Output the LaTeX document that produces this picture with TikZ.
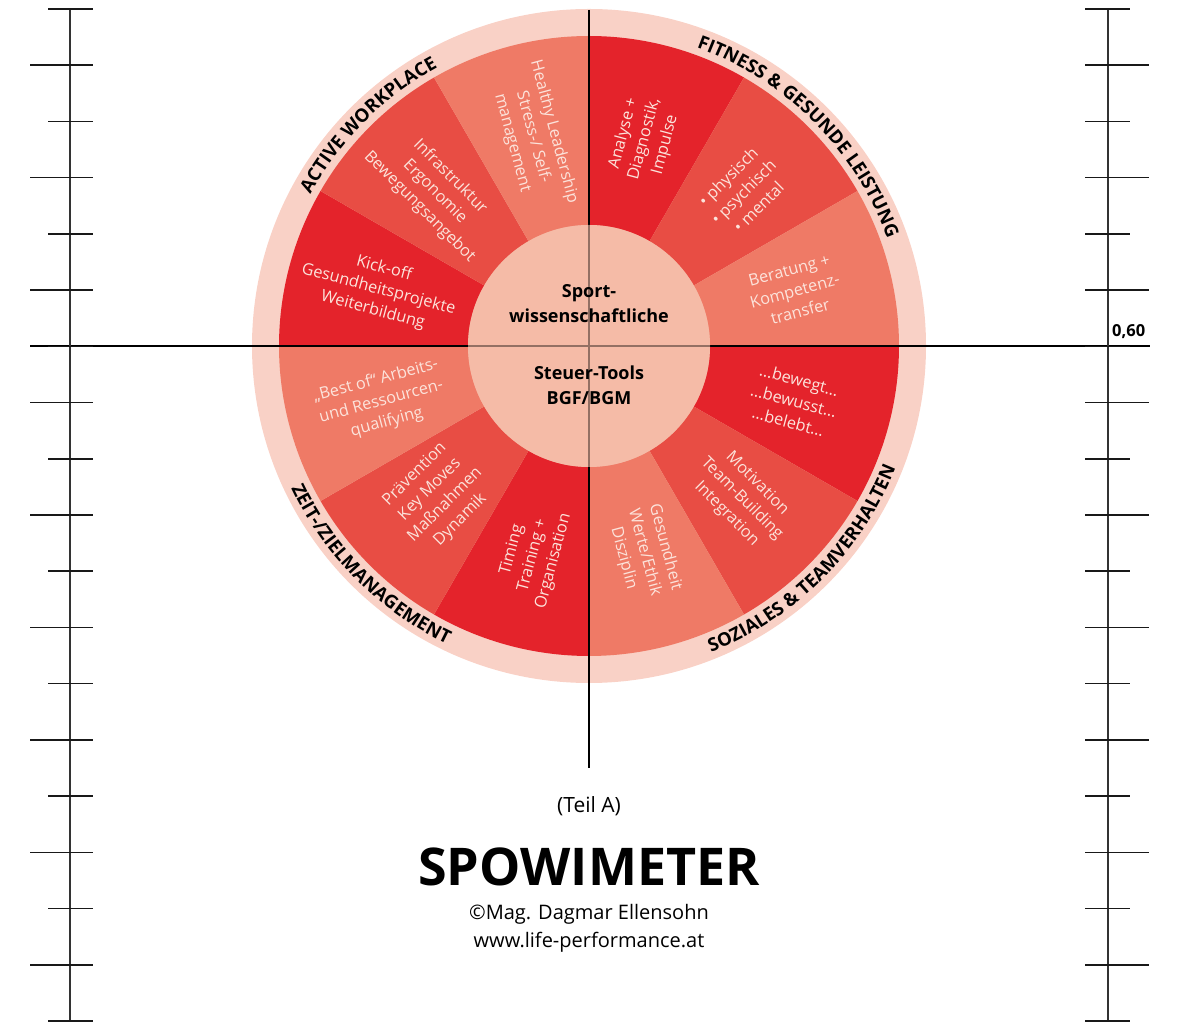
\documentclass[tikz,border=0pt]{standalone}
\usepackage{fontspec}
\setmainfont{Open Sans}
\usetikzlibrary{calc,decorations.text}
\definecolor{wdark}{HTML}{E4232B}
\definecolor{wmed}{HTML}{E84D44}
\definecolor{wlight}{HTML}{EF7A66}
\definecolor{wring}{HTML}{F9D1C6}
\definecolor{wcenter}{HTML}{F5BBA7}
\definecolor{wtext}{HTML}{FCE3DB}
\newcommand\arclabelfont{\bfseries\fontsize{18.5}{18.5}\selectfont}
\begin{document}
\begin{tikzpicture}[x=1pt,y=1pt,
  segtext/.style={text=wtext, align=center, font=\fontsize{16.3}{21.5}\selectfont, inner sep=0pt},
  midtext/.style={font=\bfseries\fontsize{18}{18}\selectfont, anchor=base, inner sep=0pt},
  crossline/.style={line width=1.3pt, black},
  rulerline/.style={line width=2pt, black!80},
  tickline/.style={line width=1.5pt, black!90},
  arclabel/.style={decorate, decoration={text along path, text align=center, text={#1}}}]
\useasboundingbox (0,0) rectangle (1183,1023);
\coordinate (C) at (589,677);
% outer ring
\fill[wring] (C) circle[radius=337];
% wedges
\foreach \a/\col in {90/wdark, 60/wmed, 30/wlight, 0/wdark, -30/wmed, -60/wlight,
                     -90/wdark, -120/wmed, -150/wlight, -180/wdark, -210/wmed, -240/wlight} {
  \fill[\col] (C) -- ($(C)+(\a:310)$) arc[start angle=\a, end angle=\a-30, radius=310] -- cycle;
}
% centre disc
\fill[wcenter] (C) circle[radius=121];
% crosshair
\draw[crossline] (30,677) -- (1150,677);
\draw[crossline] (589,1013) -- (589,255);
\fill[wcenter, fill opacity=0.6] (C) circle[radius=121];
% rulers
\draw[rulerline] (70,2) -- (70,1014);
\draw[rulerline] (1107.5,2) -- (1107.5,1014);
\foreach \i in {0,2,...,18} {
  \draw[tickline] (48,{1014-56.222*\i}) -- (93,{1014-56.222*\i});
  \draw[tickline] (1085,{1014-56.222*\i}) -- (1130,{1014-56.222*\i});
}
\foreach \i in {1,3,...,17} {
  \draw[tickline] (30,{1014-56.222*\i}) -- (93,{1014-56.222*\i});
  \draw[tickline] (1085,{1014-56.222*\i}) -- (1149,{1014-56.222*\i});
}
\node[font=\bfseries\fontsize{16.5}{16.5}\selectfont, anchor=base west, inner sep=0pt] (v060) at (1112,686) {0,60};
% wedge texts
\node[segtext, rotate=75]  (s1)  at ($(C)+(75:214)$)   {Analyse +\\Diagnostik,\\Impulse};
\node[segtext, rotate=45]  (s2)  at ($(C)+(45:218)$)   {• physisch\\• psychisch\\• mental};
\node[segtext, rotate=15]  (s3)  at ($(C)+(15:213)$)   {Beratung +\\Kompetenz-\\transfer};
\node[segtext, rotate=-15] (s4)  at ($(C)+(-15:212)$)  {…bewegt…\\…bewusst…\\…belebt…};
\node[segtext, rotate=-45] (s5)  at ($(C)+(-45:216)$)  {Motivation\\Team-Building\\Integration};
\node[segtext, rotate=-75] (s6)  at ($(C)+(-75:214)$)  {Gesundheit\\Werte/Ethik\\Disziplin};
\node[segtext, rotate=75]  (s7)  at ($(C)+(-105:217)$) {Timing\\Training +\\Organisation};
\node[segtext, rotate=45]  (s8)  at ($(C)+(-135:214)$) {Prävention\\Key Moves\\Maßnahmen\\Dynamik};
\node[segtext, rotate=15]  (s9)  at ($(C)+(-165:215)$) {„Best of“ Arbeits-\\und Ressourcen-\\qualifying};
\node[segtext, rotate=-15] (s10) at ($(C)+(165:218)$)  {Kick-off\\Gesundheitsprojekte\\Weiterbildung};
\node[segtext, rotate=-45] (s11) at ($(C)+(135:218)$)  {Infrastruktur\\Ergonomie\\Bewegungsangebot};
\node[segtext, rotate=-75] (s12) at ($(C)+(105:216)$)  {Healthy Leadership\\Stress-/ Self-\\management};
% ring labels
\path[arclabel={|\arclabelfont|ACTIVE WORKPLACE}] ($(C)+(180:317)$) arc[start angle=180, end angle=90, radius=317];
\path[arclabel={|\arclabelfont|FITNESS {\&} GESUNDE LEISTUNG}] ($(C)+(90:317)$) arc[start angle=90, end angle=0, radius=317];
\path[arclabel={|\arclabelfont|SOZIALES {\&} TEAMVERHALTEN}] ($(C)+(-90:330)$) arc[start angle=-90, end angle=0, radius=330];
\path[arclabel={|\arclabelfont|ZEIT-/ZIELMANAGEMENT}] ($(C)+(-180:330)$) arc[start angle=-180, end angle=-90, radius=330];
% centre text
\node[midtext] (m1) at (589,725) {Sport-};
\node[midtext] (m2) at (589,700) {wissenschaftliche};
\node[midtext] (m3) at (589,643) {Steuer-Tools};
\node[midtext] (m4) at (589,618) {BGF/BGM};
% footer
\node[font=\fontsize{21}{21}\selectfont, anchor=base, inner sep=0pt] (teil) at (589,210) {(Teil A)};
\node[font=\bfseries\fontsize{52}{52}\selectfont, anchor=base, inner sep=0pt] (title) at (589,138) {SPOWIMETER};
\node[font=\fontsize{20}{20}\selectfont, anchor=base, inner sep=0pt] (copy) at (589,104) {©Mag. Dagmar Ellensohn};
\node[font=\fontsize{20}{20}\selectfont, anchor=base, inner sep=0pt] (web) at (589,76) {www.life-performance.at};
\end{tikzpicture}
\end{document}
